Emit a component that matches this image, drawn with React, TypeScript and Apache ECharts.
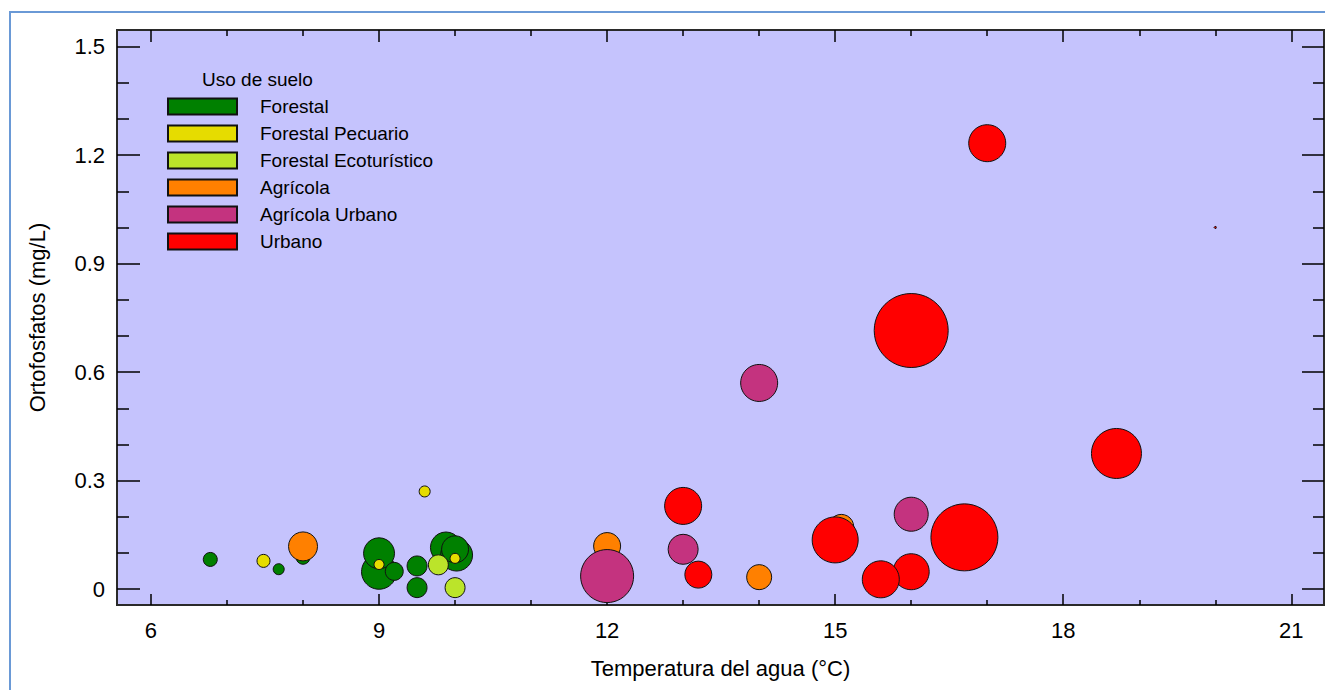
import React, { useEffect, useRef } from "react";
import * as echarts from "echarts";

// ---- Data: [temperatura °C, ortofosfatos mg/L, bubble diameter px] ----
const forestalData = [
  [6.78, 0.082, 14],
  [7.68, 0.055, 11],
  [8.0, 0.088, 14],
  [9.0, 0.048, 35],
  [9.0, 0.099, 31],
  [9.2, 0.049, 18],
  [9.5, 0.064, 20],
  [9.5, 0.004, 20],
  [9.88, 0.115, 31],
  [10.02, 0.094, 32],
  [10.0, 0.11, 27],
];
const pecuarioData = [
  [7.48, 0.078, 13],
  [9.0, 0.068, 10],
  [9.6, 0.27, 11],
  [10.0, 0.085, 10],
];
const ecoturisticoData = [
  [9.78, 0.067, 20],
  [10.0, 0.004, 20],
];
const agricolaData = [
  [8.0, 0.118, 29],
  [12.0, 0.119, 27],
  [14.0, 0.033, 25],
  [15.08, 0.172, 25],
];
const agricolaUrbanoData = [
  [12.0, 0.036, 53],
  [13.0, 0.11, 30],
  [14.0, 0.57, 37],
  [16.0, 0.207, 34],
];
const urbanoData = [
  [13.0, 0.23, 37],
  [13.2, 0.04, 27],
  [15.0, 0.136, 46],
  [16.0, 0.048, 36],
  [15.6, 0.027, 37],
  [16.7, 0.143, 67],
  [16.0, 0.715, 74],
  [17.0, 1.233, 37],
  [18.7, 0.375, 50],
  [20.0, 1.0, 2],
];

const seriesNames = [
  "Forestal",
  "Forestal Pecuario",
  "Forestal Ecoturístico",
  "Agrícola",
  "Agrícola Urbano",
  "Urbano",
];
const seriesColors = ["#008000", "#E6DC00", "#BBE42A", "#FF8000", "#C4337F", "#FF0000"];
const seriesData = [forestalData, pecuarioData, ecoturisticoData, agricolaData, agricolaUrbanoData, urbanoData];

const xMajorTicks = [6, 9, 12, 15, 18, 21];
const xMinorTicks = [7, 8, 10, 11, 13, 14, 16, 17, 19, 20];
const yMajorTicks = [0, 0.3, 0.6, 0.9, 1.2, 1.5];
const yMinorTicks = [0.1, 0.2, 0.4, 0.5, 0.7, 0.8, 1.0, 1.1, 1.3, 1.4];

const X_MIN = 5.553;
const X_MAX = 21.43;
const Y_MIN = -0.044;
const Y_MAX = 1.546;

const FONT = '"Liberation Sans Narrow", "Arial Narrow", "Liberation Sans", Arial, sans-serif';
const tickLine = { color: "#000", width: 1.5 };
const GRID_RECT = { left: 117, right: 1, top: 30, bottom: 85 };

function xAxisDef(gridIndex: number, position: string, values: number[], len: number, labels: boolean, extra: any = {}) {
  return {
    type: "value",
    gridIndex,
    position,
    min: X_MIN,
    max: X_MAX,
    axisLine: { show: false, onZero: false },
    splitLine: { show: false },
    axisTick: { show: true, inside: true, length: len, lineStyle: tickLine, customValues: values },
    axisLabel: labels
      ? { show: true, customValues: values, fontSize: 22, fontFamily: FONT, color: "#000", margin: 14 }
      : { show: false },
    ...extra,
  };
}
function yAxisDef(gridIndex: number, position: string, values: number[], len: number, labels: boolean, extra: any = {}) {
  return {
    type: "value",
    gridIndex,
    position,
    min: Y_MIN,
    max: Y_MAX,
    axisLine: { show: false, onZero: false },
    splitLine: { show: false },
    axisTick: { show: true, inside: true, length: len, lineStyle: tickLine, customValues: values },
    axisLabel: labels
      ? {
          show: true,
          customValues: values,
          fontSize: 22,
          fontFamily: FONT,
          color: "#000",
          margin: 12,
          formatter: (v: number) => String(Math.round(v * 10) / 10),
        }
      : { show: false },
    ...extra,
  };
}

export default function App() {
  const ref = useRef<HTMLDivElement>(null);
  useEffect(() => {
    if (!ref.current) return;
    const chart = echarts.init(ref.current, null, { renderer: "svg" });
    const option: any = {
      animation: false,
      backgroundColor: "#fff",
      title: {
        text: "Uso de suelo",
        left: 202,
        top: 70,
        padding: 0,
        textStyle: { fontSize: 19, fontWeight: "normal", color: "#000", fontFamily: FONT },
      },
      legend: {
        data: seriesNames,
        orient: "vertical",
        left: 167,
        top: 97,
        padding: 0,
        itemWidth: 69,
        itemHeight: 16,
        itemGap: 8,
        icon: "rect",
        textStyle: { fontSize: 19, color: "#000", fontFamily: FONT, padding: [0, 0, 0, 18] },
      },
      graphic: [
        {
          type: "rect",
          silent: true,
          z: -10,
          shape: { x: 10, y: 12, width: 1400, height: 800 },
          style: { fill: "none", stroke: "#6A99D6", lineWidth: 2 },
        },
      ],
      grid: [
        { ...GRID_RECT, show: true, backgroundColor: "#C5C3FD", borderColor: "#2a2a2a", borderWidth: 2 },
        { ...GRID_RECT, show: false },
        { ...GRID_RECT, show: false },
        { ...GRID_RECT, show: false },
      ],
      xAxis: [
        xAxisDef(0, "bottom", xMajorTicks, 11, true, {
          name: "Temperatura del agua (°C)",
          nameLocation: "middle",
          nameGap: 52,
          nameTextStyle: { fontSize: 22, fontFamily: FONT, color: "#000" },
        }),
        xAxisDef(1, "bottom", xMinorTicks, 5, false),
        xAxisDef(2, "top", xMajorTicks, 12, false),
        xAxisDef(3, "top", xMinorTicks, 6, false),
      ],
      yAxis: [
        yAxisDef(0, "left", yMajorTicks, 23, true, {
          name: "Ortofosfatos (mg/L)",
          nameLocation: "middle",
          nameGap: 69,
          nameTextStyle: { fontSize: 22, fontFamily: FONT, color: "#000" },
        }),
        yAxisDef(1, "left", yMinorTicks, 12, false),
        yAxisDef(2, "right", yMajorTicks, 22, false),
        yAxisDef(3, "right", yMinorTicks, 11, false),
      ],
      series: seriesNames.map((name, i) => ({
        name,
        type: "scatter",
        xAxisIndex: 0,
        yAxisIndex: 0,
        data: seriesData[i],
        symbol: "circle",
        symbolSize: (v: number[]) => v[2],
        itemStyle: { color: seriesColors[i], borderColor: "#111", borderWidth: 1, opacity: 1 },
        emphasis: { disabled: true },
      })),
    };
    chart.setOption(option);
    return () => chart.dispose();
  }, []);
  return (
    <div
      ref={ref}
      style={{ position: "absolute", left: 0, top: 0, width: 1325, height: 690, background: "#fff" }}
    />
  );
}
